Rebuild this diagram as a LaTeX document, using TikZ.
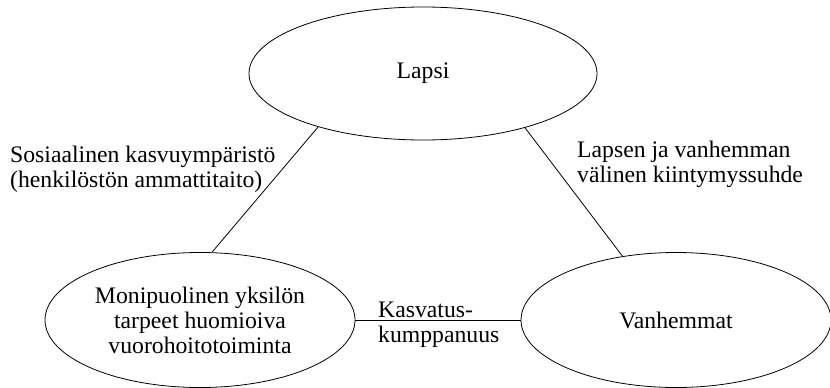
\documentclass[tikz,border=0pt]{standalone}
\usepackage{fontspec}
\setmainfont{Liberation Serif}
\usetikzlibrary{shapes.geometric}
\begin{document}
\begin{tikzpicture}[x=1pt,y=-1pt,
  every node/.style={font=\fontsize{23.7pt}{25pt}\selectfont},
  oval/.style={draw, ellipse, inner sep=0pt, align=center, line width=0.8pt},
  conn/.style={line width=0.8pt},
  lbl/.style={align=left, inner sep=0pt, anchor=base west}]
\useasboundingbox (0,0) rectangle (830,388);
\node[oval, minimum width=348pt, minimum height=133pt] (lapsi) at (423,73.5) {Lapsi};
\node[oval, minimum width=310pt, minimum height=135pt] (toim) at (200,320) {Monipuolinen yksilön\\tarpeet huomioiva\\vuorohoitotoiminta};
\node[oval, minimum width=310pt, minimum height=135pt] (vanh) at (676,320) {Vanhemmat};
\draw[conn] (lapsi.207.4) -- (toim.80.7);
\draw[conn] (lapsi.332.6) -- (vanh.130.4);
\draw[conn] (toim.east) -- (vanh.west);
\node[lbl] (l1) at (10,187.5) {Sosiaalinen kasvuympäristö\\(henkilöstön ammattitaito)};
\node[lbl] (l2) at (577,182.5) {Lapsen ja vanhemman\\välinen kiintymyssuhde};
\node[lbl] (l3) at (378,342.5) {Kasvatus-\\kumppanuus};
\end{tikzpicture}
\end{document}
